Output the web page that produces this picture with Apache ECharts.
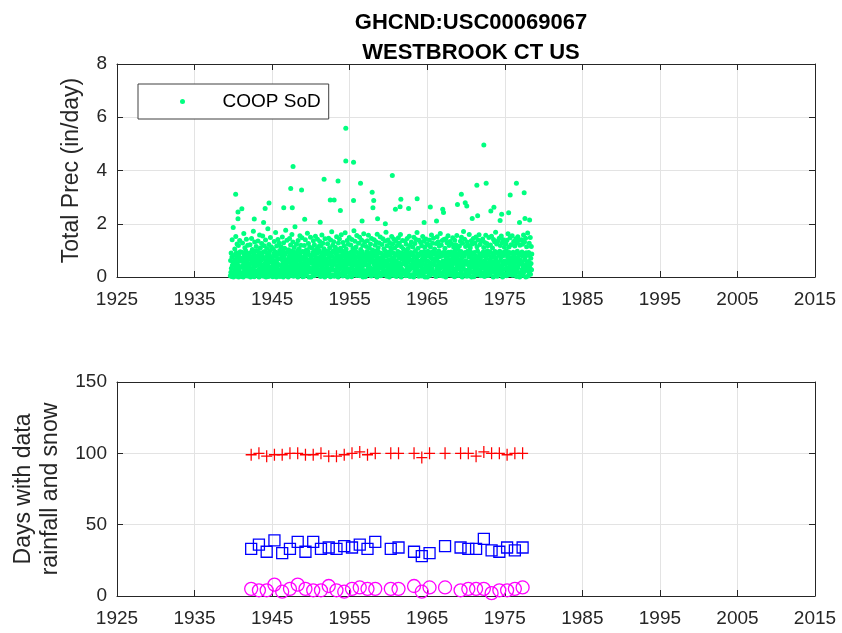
<!DOCTYPE html>
<html>
<head>
<meta charset="utf-8">
<script src="https://cdn.jsdelivr.net/npm/echarts@6/dist/echarts.min.js"></script>
<style>
html,body{margin:0;padding:0;background:#fff;}
#chart{width:842px;height:633px;}
</style>
</head>
<body>
<div id="chart"></div>
<script>
// ---------- DATA ----------
const titleLines = ["GHCND:USC00069067", "WESTBROOK CT US"];
const xTickYears = [1925, 1935, 1945, 1955, 1965, 1975, 1985, 1995, 2005, 2015];
const precipTicks = [0, 2, 4, 6, 8];
const countTicks = [0, 50, 100, 150];
const legendName = "COOP SoD";

// daily precipitation sample (hundredths of inch), one row per year, evenly spaced in time
const precipFirst = 1939.6;
const precipLast = 1978.5;
const precipYears = [1939,1940,1941,1942,1943,1944,1945,1946,1947,1948,1949,1950,1951,1952,1953,1954,1955,1956,1957,1958,1959,1960,1961,1962,1963,1964,1965,1966,1967,1968,1969,1970,1971,1972,1973,1974,1975,1976,1977,1978];
const precipRows = [
"5 62 18 90 33 2 75 140 44 11 56 186",
"0 48 13 82 27 105 6 66 39 152 19 91 3 57 124 31 74 9 44 118 0 86 22 61 137 15 95 36 8 71",
"11 59 2 93 41 128 17 70 0 35 163 52 84 7 110 25 64 46 98 13 142 30 77 4 55 119 21 88 38 69",
"4 37 80 16 121 50 0 92 28 66 145 9 58 103 33 75 14 172 47 85 1 62 131 24 97 40 10 79 115 53",
"23 68 7 99 44 135 12 57 86 0 30 158 73 18 109 49 91 5 63 126 36 82 10 154 27 70 3 94 42 117",
"8 51 96 20 139 61 0 34 77 107 14 89 45 181 26 68 2 122 55 83 11 99 38 148 6 74 31 113 59 17",
"15 72 1 46 104 29 87 60 133 9 53 95 21 167 40 78 0 116 64 32 90 13 141 48 85 5 69 127 24 100",
"2 43 90 25 114 67 10 81 36 150 18 56 97 0 129 42 75 12 108 60 86 28 176 50 7 92 33 138 65 20",
"19 64 0 102 39 76 11 145 54 88 26 120 6 69 98 35 160 47 83 14 131 57 3 94 30 111 72 16 189 44",
"6 58 85 31 123 15 71 48 99 0 137 40 79 22 106 63 9 155 34 90 52 119 13 74 41 147 27 96 1 67",
"12 45 94 3 118 59 80 24 140 37 70 8 101 51 86 17 164 42 97 29 126 63 0 83 35 112 55 20 149 76",
"0 52 78 21 109 66 33 92 14 136 47 84 5 121 60 96 26 153 39 73 10 104 56 88 31 142 18 69 45 115",
"9 61 100 28 133 46 76 2 117 54 89 19 158 38 72 11 127 65 94 23 106 49 81 0 144 32 68 15 98 57",
"17 40 87 6 125 58 95 30 146 13 73 50 110 24 84 1 139 62 91 35 170 44 78 8 119 53 99 27 132 64",
"3 55 93 26 112 70 12 86 43 151 20 67 102 36 80 0 128 57 96 14 143 48 75 31 108 62 9 159 39 82",
"14 63 97 4 130 51 79 25 116 42 88 10 166 34 71 59 105 18 92 46 137 0 77 29 123 54 85 21 148 66",
"7 49 83 32 120 60 94 1 141 38 74 16 107 56 89 27 174 45 81 11 134 64 98 22 113 50 6 156 35 76",
"20 58 91 10 127 44 78 33 149 5 69 52 103 28 86 15 138 61 95 39 118 0 82 47 162 24 73 12 131 55",
"1 47 85 23 115 68 96 13 136 41 77 30 157 9 64 50 108 19 90 36 124 57 84 4 145 31 70 16 101 60",
"11 54 92 29 140 46 80 7 119 62 98 18 132 39 75 0 161 51 87 26 110 66 93 14 128 43 71 35 150 58",
"5 60 89 17 122 49 76 34 144 8 72 55 106 25 83 12 135 59 97 41 168 20 79 3 117 52 88 30 139 65",
"16 42 94 0 129 63 81 27 111 48 99 10 152 37 68 22 125 56 90 6 143 45 74 33 109 61 86 19 134 53",
"2 57 84 31 118 44 96 15 147 39 70 9 128 52 91 24 160 35 78 0 114 67 89 28 137 49 73 13 104 62",
"13 50 88 21 135 58 77 5 123 43 95 30 145 18 69 54 107 11 85 37 153 26 80 2 119 64 92 40 131 47",
"8 63 90 34 113 51 82 0 149 36 74 20 126 57 99 12 141 45 71 29 167 53 87 16 108 60 79 3 138 42",
"22 46 86 10 130 55 93 37 117 4 67 49 152 27 81 14 134 62 96 32 112 0 75 44 143 19 83 58 125 39",
"0 59 97 25 121 41 78 13 139 54 88 7 113 35 72 50 158 21 94 30 127 66 85 11 146 47 69 18 105 61",
"10 44 91 2 126 65 80 28 151 38 73 17 132 56 98 23 116 48 84 6 163 33 77 52 120 14 90 42 137 59",
"4 56 85 19 141 47 95 31 108 60 76 0 144 36 89 12 129 53 70 26 155 40 93 8 118 63 82 34 133 50",
"18 62 94 7 124 43 79 35 147 15 71 58 112 29 87 1 138 51 99 22 121 67 84 11 156 37 74 45 106 57",
"6 48 90 30 116 64 83 14 134 42 96 20 149 55 72 0 127 39 86 33 171 46 78 9 142 58 92 25 115 61",
"14 53 88 3 131 50 97 26 119 44 75 11 160 32 81 57 110 21 93 38 136 0 70 48 124 17 85 63 145 36",
"1 60 92 24 128 45 80 12 150 37 69 31 114 54 98 8 139 42 76 19 159 52 87 27 122 65 74 5 135 46",
"9 41 86 16 143 57 94 33 111 48 78 2 130 61 90 22 157 35 71 13 126 50 99 40 117 6 82 29 148 55",
"20 64 95 8 120 43 77 36 153 18 73 56 109 30 88 0 141 47 84 25 132 59 96 15 168 38 70 11 124 51",
"3 55 91 27 136 49 82 10 146 40 97 21 118 62 74 34 154 16 89 44 129 0 79 53 140 28 93 7 112 60",
"12 47 87 31 125 58 99 5 138 35 76 19 162 51 85 24 113 66 92 9 147 42 71 30 121 56 88 14 155 38",
"7 61 93 22 133 46 80 38 116 13 68 54 144 26 90 2 128 60 97 33 151 41 75 17 137 49 84 0 119 64",
"16 52 89 11 140 57 94 29 123 45 78 6 158 36 86 20 131 63 73 39 146 0 91 48 114 25 82 55 165 34",
"4 58 92 19 127 43 81 33 148 10 70 51 115 27 86"
];
// larger daily totals (decimal year, in/day)
const bigDates = [1940.3,1940.6,1941.1,1940.6,1942.7,1943.9,1944.1,1944.6,1946.5,1947.4,1947.6,1947.7,1948.8,1949.2,1951.2,1951.7,1952.5,1953.0,1953.5,1953.8,1954.5,1954.5,1955.5,1955.5,1956.4,1956.6,1957.9,1958.1,1958.0,1958.6,1959.6,1960.5,1960.9,1961.5,1961.6,1962.6,1963.7,1964.6,1965.4,1966.2,1967.0,1967.1,1968.9,1969.4,1969.9,1970.1,1970.8,1971.4,1971.5,1972.3,1972.6,1973.2,1973.6,1974.4,1974.6,1975.5,1975.7,1976.5,1976.9,1977.5,1977.6,1978.2];
const bigValues = [3.11,2.44,2.56,2.19,2.18,2.05,2.57,2.78,2.60,3.32,2.60,4.15,3.27,2.17,2.06,3.67,2.89,2.89,3.61,2.50,5.59,4.36,4.31,2.87,3.52,2.10,3.18,2.87,2.60,2.19,2.00,3.81,2.54,2.64,2.92,2.57,2.94,2.05,2.63,2.10,2.54,2.42,2.72,3.11,2.79,2.67,2.20,3.45,2.30,4.96,3.52,2.48,2.62,2.12,2.36,2.41,3.08,3.52,2.05,3.16,2.20,2.14];

// yearly counts (bottom panel)
const countYears = [1942,1943,1944,1945,1946,1947,1948,1949,1950,1951,1952,1953,1954,1955,1956,1957,1958,1960,1961,1963,1964,1965,1967,1969,1970,1971,1972,1973,1974,1975,1976,1977];
const daysRedPlus   = [99,100,98,99,99,100,100,99,99,100,98,98,99,100,101,99,100,100,100,100,97,100,100,100,100,98,101,100,100,99,100,100];
const daysBlueSq    = [33,36,31,39,30,33,38,31,38,33,34,33,35,34,36,33,38,33,34,31,28,30,35,34,33,33,40,32,31,34,32,34];
const daysMagCircle = [5,4,4,8,3,5,8,5,4,4,7,4,3,5,6,5,5,5,5,7,3,6,6,4,5,5,5,2,4,4,5,6];

// ---------- BUILD ----------
const X0 = xTickYears[0];
const XSPAN = xTickYears[xTickYears.length - 1] - X0;
const XSTEP = xTickYears[1] - xTickYears[0];
const countOffset = 0.3;

const denseData = [];
precipYears.forEach((yr, r) => {
  const vals = precipRows[r].trim().split(/\s+/).map(Number);
  const s = Math.max(yr, precipFirst), e = Math.min(yr + 1, precipLast);
  vals.forEach((v, i) => {
    const t = s + (i + 0.5) / vals.length * (e - s);
    denseData.push([t - X0, v / 100]);
  });
});
const bigData = bigDates.map((d, i) => [d - X0, bigValues[i]]);
const mk = arr => countYears.map((y, i) => [y + countOffset - X0, arr[i]]);

const FONT = "'Liberation Sans', Arial, Helvetica, sans-serif";
const AX = '#262626';
const GRIDC = '#e3e3e3';
const TICKF = 19;

function xAx(gridIndex, pos, labels) {
  return {
    type: 'value', gridIndex, position: pos, min: 0, max: XSPAN, interval: XSTEP,
    axisLine: { show: true, onZero: false, lineStyle: { color: AX, width: 1 } },
    axisTick: { show: true, inside: true, length: 6, lineStyle: { color: AX } },
    axisLabel: { show: labels, color: AX, fontSize: TICKF, fontFamily: FONT, margin: 13,
      formatter: v => String(X0 + v) },
    splitLine: { show: labels, lineStyle: { color: GRIDC, width: 1 } }
  };
}
function yAx(gridIndex, pos, labels, ticks, name, nameGap) {
  return {
    type: 'value', gridIndex, position: pos, min: ticks[0], max: ticks[ticks.length - 1],
    interval: ticks[1] - ticks[0],
    name: labels ? name : '', nameLocation: 'middle', nameGap: nameGap, nameRotate: 90,
    nameTextStyle: { color: AX, fontSize: 23, fontFamily: FONT, lineHeight: 27 },
    axisLine: { show: true, onZero: false, lineStyle: { color: AX, width: 1 } },
    axisTick: { show: true, inside: true, length: 6, lineStyle: { color: AX } },
    axisLabel: { show: labels, color: AX, fontSize: TICKF, fontFamily: FONT, margin: 10 },
    splitLine: { show: labels, lineStyle: { color: GRIDC, width: 1 } }
  };
}

const chart = echarts.init(document.getElementById('chart'), null, { renderer: 'canvas' });
chart.setOption({
  animation: false,
  backgroundColor: '#ffffff',
  title: {
    text: titleLines.join('\n'),
    left: 466, top: 3, textAlign: 'center',
    textStyle: { fontSize: 22, fontWeight: 'bold', color: '#000', fontFamily: FONT, lineHeight: 30 }
  },
  legend: {
    show: true, data: [legendName], left: 138, top: 84,
    padding: [8, 8, 8, 42],
    backgroundColor: '#ffffff', borderColor: '#404040', borderWidth: 1, borderRadius: 0,
    icon: 'circle', itemWidth: 70, itemHeight: 5, symbolKeepAspect: true,
    textStyle: { fontSize: 19, color: '#000', fontFamily: FONT },
    selectedMode: false
  },
  grid: [
    { left: 117, right: 27, top: 64, height: 213, containLabel: false },
    { left: 117, right: 27, top: 382, height: 214, containLabel: false }
  ],
  xAxis: [xAx(0, 'bottom', true), xAx(0, 'top', false), xAx(1, 'bottom', true), xAx(1, 'top', false)],
  yAxis: [
    yAx(0, 'left', true, precipTicks, 'Total Prec (in/day)', 25),
    yAx(0, 'right', false, precipTicks, '', 0),
    yAx(1, 'left', true, countTicks, 'Days with data\nrainfall and snow', 42),
    yAx(1, 'right', false, countTicks, '', 0)
  ],
  series: [
    { name: legendName, type: 'scatter', xAxisIndex: 0, yAxisIndex: 0, data: denseData,
      symbol: 'circle', symbolSize: 5, itemStyle: { color: '#00ff80', opacity: 1 }, silent: true },
    { name: legendName, type: 'scatter', xAxisIndex: 0, yAxisIndex: 0, data: bigData,
      symbol: 'circle', symbolSize: 5, itemStyle: { color: '#00ff80', opacity: 1 }, silent: true },
    { name: 'days1', type: 'scatter', xAxisIndex: 2, yAxisIndex: 2, data: mk(daysRedPlus),
      symbol: 'path://M5,0L5,12M0,6L10,6', symbolSize: [11, 12],
      itemStyle: { color: 'rgba(0,0,0,0)', borderColor: '#ff0000', borderWidth: 1.3, opacity: 1 }, silent: true },
    { name: 'days2', type: 'scatter', xAxisIndex: 2, yAxisIndex: 2, data: mk(daysBlueSq),
      symbol: 'rect', symbolSize: 11,
      itemStyle: { color: 'rgba(0,0,0,0)', borderColor: '#0000ff', borderWidth: 1.3, opacity: 1 }, silent: true },
    { name: 'days3', type: 'scatter', xAxisIndex: 2, yAxisIndex: 2, data: mk(daysMagCircle),
      symbol: 'circle', symbolSize: 13,
      itemStyle: { color: 'rgba(0,0,0,0)', borderColor: '#ff00ff', borderWidth: 1.3, opacity: 1 }, silent: true }
  ]
});
</script>
</body>
</html>
